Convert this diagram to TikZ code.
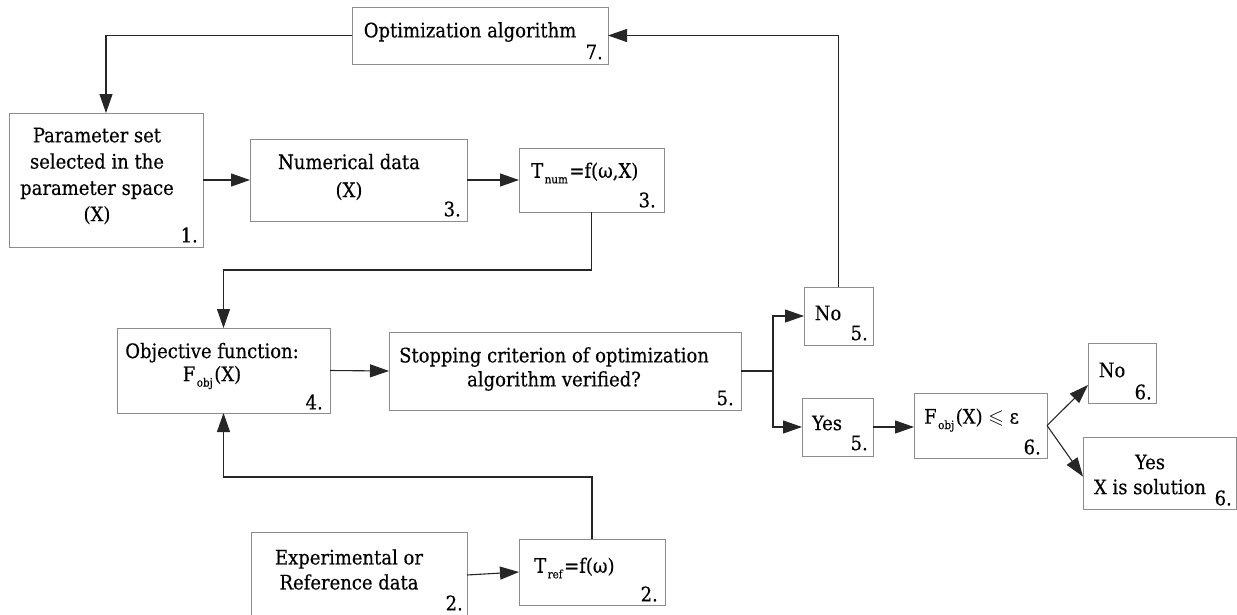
\documentclass[tikz,border=0pt]{standalone}
\usepackage{amssymb}
\usepackage{fontspec}
\setmainfont[FakeBold=0.35]{DejaVu Serif Condensed}
\usetikzlibrary{arrows.meta,calc}
\newcommand\sbx[1]{\hspace{1.5pt}\raisebox{-5.5pt}{\fontsize{11.5}{11.5}\selectfont #1}\hspace{1.5pt}}
\tikzset{
  box/.style={draw=black!45, line width=1pt, inner sep=0pt, outer sep=0pt, anchor=north west},
  conn/.style={draw=black!85, line width=1.1pt, -{Triangle[length=19pt,width=13pt]}},
  plain/.style={draw=black!85, line width=1.1pt},
  txt/.style={font=\fontsize{20}{26}\selectfont, inner sep=0pt, align=center},
  nr/.style={txt, anchor=east},
}
\begin{document}
\begin{tikzpicture}[x=1pt,y=-1pt]
\useasboundingbox (0,0) rectangle (1237,614);
% boxes
\node[box, minimum width=256pt, minimum height=57pt] (opt) at (352,7) {};
\node[box, minimum width=194pt, minimum height=134pt] (param) at (9,113) {};
\node[box, minimum width=217pt, minimum height=82pt] (num) at (250,139) {};
\node[box, minimum width=145pt, minimum height=64pt] (tnum) at (519,148) {};
\node[box, minimum width=213pt, minimum height=85pt] (obj) at (117,328) {};
\node[box, minimum width=352pt, minimum height=78pt] (stop) at (389,332) {};
\node[box, minimum width=69pt, minimum height=58pt] (no5) at (804,287) {};
\node[box, minimum width=71pt, minimum height=58pt] (yes5) at (802,398) {};
\node[box, minimum width=133pt, minimum height=65pt] (fobj) at (914,393) {};
\node[box, minimum width=68pt, minimum height=60pt] (no6) at (1088,343) {};
\node[box, minimum width=153pt, minimum height=72pt] (yes6) at (1083,437) {};
\node[box, minimum width=216pt, minimum height=86pt] (exp) at (251,532) {};
\node[box, minimum width=146pt, minimum height=66pt] (tref) at (519,539) {};
% texts
\node[txt] (toptA) at (470,32) {Optimization algorithm};
\node[nr] (toptN) at (603,52) {7.};
\node[txt, font=\fontsize{20}{26.3}\selectfont] (tparA) at (97,176) {Parameter set\\selected in the\\parameter space\\(X)};
\node[nr] (tparN) at (198,235) {1.};
\node[txt, font=\fontsize{20}{28}\selectfont] (tnumA) at (349,177) {Numerical data\\(X)};
\node[nr] (tnumN) at (461,209) {3.};
\node[txt, anchor=west] (ttnA) at (531,173) {T\sbx{num}=f(ω,X)};
\node[nr] (ttnN) at (656,200) {3.};
\node[txt, font=\fontsize{20}{23}\selectfont] (tobjA) at (212,366) {Objective function:\\F\sbx{obj}(X)};
\node[nr] (tobjN) at (323,402) {4.};
\node[txt, font=\fontsize{20}{24}\selectfont] (tstopA) at (554,369) {Stopping criterion of optimization\\algorithm verified?};
\node[nr] (tstopN) at (734,398) {5.};
\node[txt] (tno5A) at (828,313) {No};
\node[nr] (tno5N) at (868,333) {5.};
\node[txt] (tyes5A) at (827,423) {Yes};
\node[nr] (tyes5N) at (868,443) {5.};
\node[txt, anchor=west] (tfobjA) at (924,420) {F\sbx{obj}(X) $\leqslant$ ε};
\node[nr] (tfobjN) at (1041,447) {6.};
\node[txt] (tno6A) at (1112,370) {No};
\node[nr] (tno6N) at (1152,392) {6.};
\node[txt, font=\fontsize{20}{25}\selectfont] (tyes6A) at (1150,474.5) {Yes\\X is solution};
\node[nr] (tyes6N) at (1232,498) {6.};
\node[txt, font=\fontsize{20}{25}\selectfont] (texpA) at (349,569.5) {Experimental or\\Reference data};
\node[nr] (texpN) at (463,603) {2.};
\node[txt, anchor=west] (ttrA) at (534,568) {T\sbx{ref}=f(ω)};
\node[nr] (ttrN) at (658,594) {2.};
% connectors
\coordinate (j1) at (773,371);
\coordinate (j2) at (1047,425.5);
\draw[conn] (opt.west) -| (param.north);
\draw[conn] (no5.north) |- (opt.east);
\draw[conn] (param.east) -- (num.west);
\draw[conn] (num.east) -- (tnum.west);
\draw[conn] (tnum.south) -- ++(0,58) -| (obj.north);
\draw[conn] (tref.north) -- ++(0,-62) -| (obj.south);
\draw[conn] (obj.east) -- (stop.west);
\draw[plain] (stop.east) -- (j1);
\draw[conn] (j1) |- (no5.west);
\draw[conn] (j1) |- (yes5.west);
\draw[conn] (yes5.east) -- (yes5.east -| fobj.west);
\draw[conn] (j2) -- ($(no6.south west)!0.3!(no6.north west)$);
\draw[conn] (j2) -- ($(yes6.north west)!0.55!(yes6.south west)$);
\draw[conn] (exp.east) -- (tref.west);
\end{tikzpicture}
\end{document}
